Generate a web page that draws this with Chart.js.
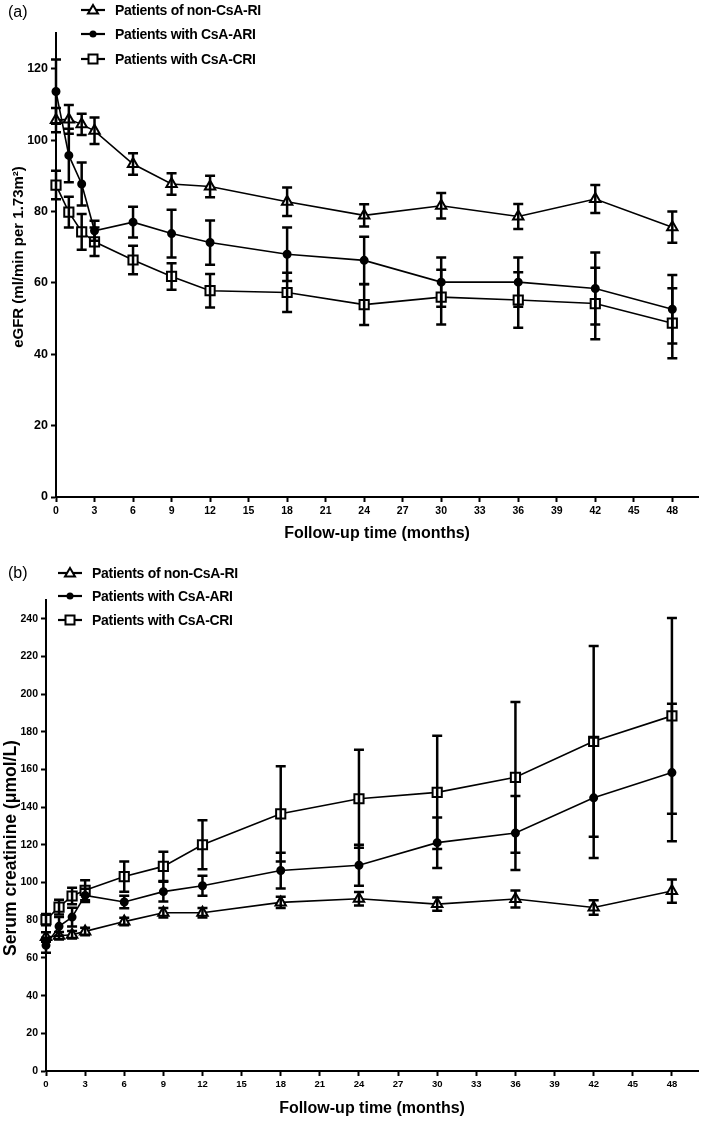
<!DOCTYPE html>
<html>
<head>
<meta charset="utf-8">
<script src="https://cdn.jsdelivr.net/npm/chart.js@4.4.0/dist/chart.umd.min.js"></script>
<style>
  body { margin: 0; background: #fff; width: 703px; height: 1123px; position: relative; overflow: hidden;
         font-family: "Liberation Sans", Arial, Helvetica, sans-serif; }
  canvas { position: absolute; left: 0; }
  #chartA { top: 0; }
  #chartB { top: 545px; }
  .tag { position: absolute; font-size: 16px; line-height: 16px; color: #000; }
  .row { position: absolute; height: 16px; display: flex; align-items: center; }
  .row svg { display: block; }
  .row span { font-weight: bold; font-size: 14px; letter-spacing: -0.3px; color: #000; margin-left: 10px; white-space: nowrap; }
  .ytitle { position: absolute; font-weight: bold; color: #000; white-space: nowrap; line-height: 1;
            transform: translate(-50%, -50%) rotate(-90deg); }
</style>
</head>
<body>
<canvas id="chartA" width="703" height="545"></canvas>
<canvas id="chartB" width="703" height="578"></canvas>

<div class="tag" style="left:8px; top:4px;">(a)</div>
<div class="tag" style="left:8px; top:565px;">(b)</div>

<div class="ytitle" style="left:16.5px; top:257px; font-size:15px;">eGFR (ml/min per 1.73m²)</div>
<div class="ytitle" style="left:11px; top:848px; font-size:17.5px;">Serum creatinine (μmol/L)</div>

<div id="legendA"></div>
<div id="legendB"></div>

<script>
// Follow-up months (shared by both panels)
const months = [0, 1, 2, 3, 6, 9, 12, 18, 24, 30, 36, 42, 48];
const xTicks = [0, 3, 6, 9, 12, 15, 18, 21, 24, 27, 30, 33, 36, 39, 42, 45, 48];
const seriesNames = ['Patients of non-CsA-RI', 'Patients with CsA-ARI', 'Patients with CsA-CRI'];

// (a) eGFR, mean and error
const egfrNonRI    = [105.6, 105.8, 104.4, 102.6, 93.3, 87.7, 87.0, 82.7, 78.9, 81.6, 78.6, 83.5, 75.6];
const egfrNonRIErr = [3.4, 4.0, 3.0, 3.7, 3.0, 3.0, 3.0, 4.0, 3.1, 3.6, 3.5, 3.9, 4.4];
const egfrARI      = [113.6, 95.7, 87.7, 74.6, 77.0, 73.8, 71.3, 68.0, 66.3, 60.2, 60.2, 58.4, 52.6];
const egfrARIErr   = [9.0, 7.5, 6.0, 2.8, 4.3, 6.7, 6.2, 7.5, 6.6, 6.9, 6.9, 10.1, 9.6];
const egfrCRI      = [87.4, 79.8, 74.3, 71.5, 66.4, 61.8, 57.8, 57.3, 53.9, 56.0, 55.2, 54.2, 48.7];
const egfrCRIErr   = [4.0, 4.3, 5.0, 4.0, 4.0, 3.7, 4.7, 5.5, 5.7, 7.7, 7.8, 10.0, 9.8];
const egfrTicks = [0, 20, 40, 60, 80, 100, 120];

// (b) serum creatinine, mean and error
const scrNonRI    = [71.1, 71.8, 72.3, 74.1, 79.3, 84.0, 84.0, 89.5, 91.4, 88.6, 91.3, 86.8, 95.5];
const scrNonRIErr = [2.5, 2.0, 2.0, 2.0, 2.0, 2.5, 2.5, 3.0, 3.6, 3.5, 4.5, 3.8, 6.2];
const scrARI      = [66.7, 76.8, 81.7, 93.2, 89.7, 95.2, 98.3, 106.4, 109.2, 121.2, 126.3, 145.0, 158.4];
const scrARIErr   = [4.0, 5.0, 5.0, 3.5, 3.3, 5.2, 5.3, 9.5, 10.9, 13.4, 19.6, 32.0, 36.5];
const scrCRI      = [80.3, 87.0, 92.9, 95.9, 103.2, 108.6, 120.1, 136.5, 144.5, 147.9, 155.9, 175.0, 188.5];
const scrCRIErr   = [3.0, 3.9, 4.4, 5.3, 8.0, 7.8, 13.0, 25.3, 26.0, 30.0, 40.0, 50.6, 52.0];
const scrTicks = [0, 20, 40, 60, 80, 100, 120, 140, 160, 180, 200, 220, 240];

const FONT = '"Liberation Sans", Arial, Helvetica, sans-serif';

// marker look per series
const markers = [
  { pointStyle: 'triangle', radius: 6, bg: '#fff' },
  { pointStyle: 'circle', radius: 3.5, bg: '#000' },
  { pointStyle: 'rect', radius: 6.5, bg: '#fff' }
];

function makeDataset(i, values, errors) {
  const m = markers[i];
  return {
    label: seriesNames[i],
    data: months.map((mo, k) => ({ x: mo, y: values[k] })),
    errors: errors,
    borderColor: '#000',
    borderWidth: 1.6,
    pointStyle: m.pointStyle,
    pointRadius: m.radius,
    pointBackgroundColor: m.bg,
    pointBorderColor: '#000',
    pointBorderWidth: 2,
    tension: 0,
    clip: false
  };
}

// error bars drawn through the chart's own scales
const errorBars = {
  id: 'errorBars',
  afterDatasetsDraw(chart) {
    const ctx = chart.ctx;
    const xs = chart.scales.x, ys = chart.scales.y;
    ctx.save();
    ctx.strokeStyle = '#000';
    ctx.lineWidth = 2.5;
    chart.data.datasets.forEach(ds => {
      ds.data.forEach((p, i) => {
        const e = ds.errors[i];
        const x = xs.getPixelForValue(p.x);
        const yTop = ys.getPixelForValue(p.y + e);
        const yBot = ys.getPixelForValue(p.y - e);
        ctx.beginPath();
        ctx.moveTo(x, yTop); ctx.lineTo(x, yBot);
        ctx.moveTo(x - 5, yTop); ctx.lineTo(x + 5, yTop);
        ctx.moveTo(x - 5, yBot); ctx.lineTo(x + 5, yBot);
        ctx.stroke();
      });
    });
    ctx.restore();
  }
};

function makeChart(canvasId, datasets, cfg) {
  return new Chart(document.getElementById(canvasId), {
    type: 'line',
    data: { datasets: datasets },
    plugins: [errorBars],
    options: {
      responsive: false,
      animation: false,
      events: [],
      layout: { autoPadding: false, padding: { top: cfg.top, right: 5, left: 0, bottom: 0 } },
      plugins: { legend: { display: false }, tooltip: { enabled: false } },
      scales: {
        x: {
          type: 'linear',
          min: 0, max: 50,
          afterBuildTicks: s => { s.ticks = xTicks.map(v => ({ value: v })); },
          afterFit: s => { s.height = cfg.xHeight; },
          border: { color: '#000', width: 2 },
          grid: { drawOnChartArea: false, drawTicks: true, tickLength: 5, tickWidth: 2, tickColor: '#000' },
          ticks: { color: '#000', padding: 3, maxRotation: 0, autoSkip: false,
                   font: { family: FONT, size: cfg.xTickSize, weight: 'bold' } },
          title: { display: true, text: 'Follow-up time (months)', color: '#000',
                   padding: { top: 0, bottom: cfg.xTitlePad },
                   font: { family: FONT, size: 16, weight: 'bold', lineHeight: 1.2 } }
        },
        y: {
          min: 0, max: cfg.yMax,
          afterBuildTicks: s => { s.ticks = cfg.yTicks.map(v => ({ value: v })); },
          afterFit: s => { s.width = cfg.yWidth; },
          border: { color: '#000', width: 2 },
          grid: { drawOnChartArea: false, drawTicks: true, tickLength: 5, tickWidth: 2, tickColor: '#000' },
          ticks: { color: '#000', padding: 3, autoSkip: false,
                   font: { family: FONT, size: cfg.yTickSize, weight: 'bold' } },
          title: { display: false }
        }
      }
    }
  });
}

makeChart('chartA', [
  makeDataset(0, egfrNonRI, egfrNonRIErr),
  makeDataset(1, egfrARI, egfrARIErr),
  makeDataset(2, egfrCRI, egfrCRIErr)
], { top: 33, xHeight: 48, yWidth: 56, yMax: 130, yTicks: egfrTicks,
     xTickSize: 10.5, yTickSize: 12.5, xTitlePad: 2 });

makeChart('chartB', [
  makeDataset(0, scrNonRI, scrNonRIErr),
  makeDataset(1, scrARI, scrARIErr),
  makeDataset(2, scrCRI, scrCRIErr)
], { top: 55, xHeight: 52, yWidth: 46, yMax: 250, yTicks: scrTicks,
     xTickSize: 9.5, yTickSize: 10.5, xTitlePad: 5 });

// legends: line + marker symbol and bold label
function symbolSvg(i) {
  let mark;
  if (i === 0) mark = '<polygon points="12,2 17,10.5 7,10.5" fill="#fff" stroke="#000" stroke-width="2"/>';
  else if (i === 1) mark = '<circle cx="12" cy="7" r="3.5" fill="#000"/>';
  else mark = '<rect x="7.5" y="2.5" width="9" height="9" fill="#fff" stroke="#000" stroke-width="2"/>';
  return '<svg width="24" height="14" viewBox="0 0 24 14">' +
         '<line x1="0" y1="7" x2="24" y2="7" stroke="#000" stroke-width="2.2"/>' + mark + '</svg>';
}

function buildLegend(id, left, rowsY) {
  const box = document.getElementById(id);
  seriesNames.forEach((name, i) => {
    const row = document.createElement('div');
    row.className = 'row';
    row.style.left = left + 'px';
    row.style.top = (rowsY[i] - 8) + 'px';
    row.innerHTML = symbolSvg(i) + '<span>' + name + '</span>';
    box.appendChild(row);
  });
}

buildLegend('legendA', 81, [10, 34, 59]);
buildLegend('legendB', 58, [573, 596, 620]);
</script>
</body>
</html>
